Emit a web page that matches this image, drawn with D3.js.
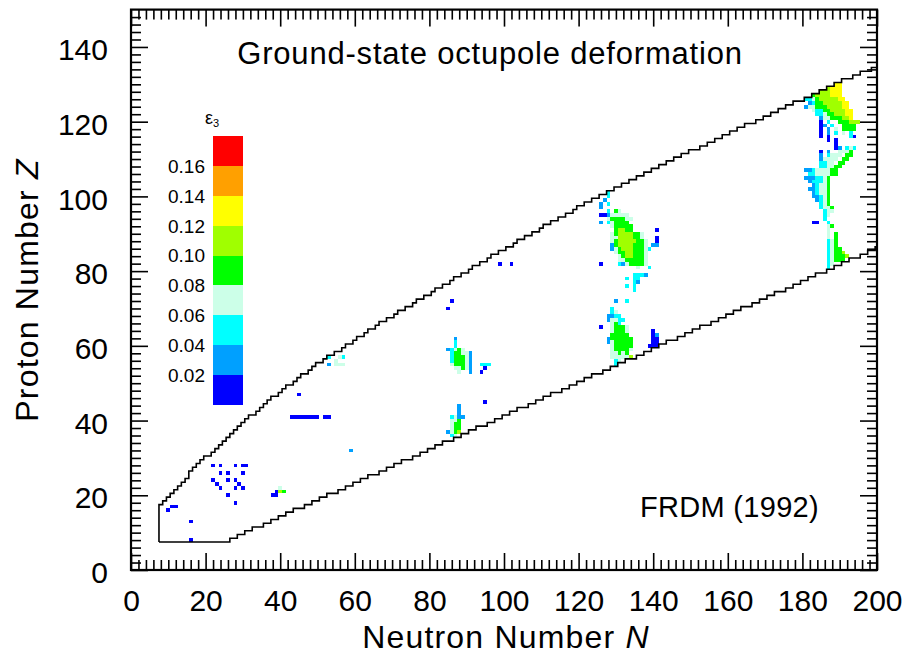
<!DOCTYPE html>
<html><head><meta charset="utf-8">
<script src="https://cdn.jsdelivr.net/npm/d3@7"></script>
<style>
body{margin:0;background:#fff}
svg{display:block;font-family:"Liberation Sans",Arial,Helvetica,sans-serif}
</style>
</head><body>
<svg id="chart" width="908" height="661"></svg>
<script>
// ---------- data ----------
const xTicks = [0,20,40,60,80,100,120,140,160,180,200];
const yTicks = [0,20,40,60,80,100,120,140];
const legendTicks = [0.02,0.04,0.06,0.08,0.10,0.12,0.14,0.16];
const legendColors = ["#0000ff","#00a0ff","#00ffff","#ccffe8","#00ff00","#a0ff00","#ffff00","#ffa000","#ff0000"];
const eps3Levels = [0.01,0.03,0.05,0.07,0.09,0.11,0.13,0.15,0.17]; // digit k in a row -> eps3Levels[k-1]

// chart boundary (FRDM 1992 table): for N = 8 ... 200
const edgeN0 = 8;
const zMaxByN = [17,18,19,20,21,22,23,24,26,27,28,29,30,
 30,31,32,33,34,35,36,37,38,39,
 40,41,41,42,43,44,45,46,46,47,
 48,49,49,50,51,52,52,53,54,55,
 55,56,57,57,58,58,59,60,60,61,
 62,62,63,64,64,65,66,66,67,67,
 68,69,69,70,70,71,72,72,73,73,
 74,75,75,76,76,77,78,78,79,79,
 80,81,81,82,82,83,84,84,85,85,
 86,86,87,88,88,89,89,90,90,91,
 92,92,93,93,94,94,95,95,96,97,
 97,98,98,99,99,100,100,101,101,102,
 102,103,103,104,104,105,105,106,106,107,
 107,108,108,109,109,110,110,111,111,112,
 112,112,113,113,114,114,115,115,116,116,
 117,117,118,118,119,119,119,120,120,121,
 121,122,122,123,123,124,124,125,125,125,
 126,126,127,127,128,128,129,129,130,130,
 131,131,131,132,132,133,133,133,134,134];
const zMinByN = [8,8,8,8,8,8,8,8,8,8,8,8,8,
 8,8,8,8,8,8,9,9,10,10,
 11,11,12,12,12,13,13,14,14,15,
 15,16,16,17,17,17,18,18,19,19,
 20,20,21,21,21,22,22,23,23,24,
 24,25,25,26,26,26,27,27,28,28,
 29,29,30,30,30,31,31,32,32,33,
 33,34,34,35,35,35,36,36,37,37,
 38,38,39,39,39,40,40,41,41,42,
 42,43,43,44,44,44,45,45,46,46,
 47,47,48,48,48,49,49,50,50,51,
 51,52,52,53,53,53,54,54,55,55,
 56,56,57,57,57,58,58,59,59,60,
 60,61,61,62,62,62,63,63,64,64,
 65,65,66,66,66,67,67,68,68,69,
 69,70,70,71,71,71,72,72,73,73,
 74,74,75,75,75,76,76,77,77,78,
 78,79,79,80,80,80,81,81,82,82,
 83,83,84,84,84,85,85,86,86,87];

// cells: [Z, first N, band digits for consecutive N ('.' = none)]
const cellRows = [
 [8,16,"1"],[13,16,"1"],[16,10,"1"],[17,11,"11"],[18,28,"1"],
 [20,26,"1"],[20,38,"11"],[21,39,"165"],[22,40,"4"],
 [22,24,"1"],[22,28,"1"],[22,30,"1"],
 [23,23,"1"],[23,29,"1"],
 [24,22,"1"],[24,26,"1"],[24,28,"1"],
 [26,24,"1"],[26,26,"1"],[26,30,"1"],
 [28,22,"1"],[28,24,"1"],[28,28,"1"],[28,30,"11"],
 [32,59,"2"],
 [41,43,"11111111"],[41,52,"11"],
 [47,45,"1"],
 [55,53,"2.444"],[56,55,"4"],[57,53,"3..43"],
 [36,86,"34"],[37,85,"2456"],[38,86,"455"],[39,86,"455"],[40,86,"445"],[41,86,"3422"],
 [42,88,"2"],[43,88,"2"],[44,88,"2"],[45,95,"1"],
 [53,88,"4..2..1"],[54,87,"44542...1"],[55,86,"455542..333"],
 [56,86,"355542"],[57,86,"355542"],[58,86,"355442"],[59,85,"23454"],
 [60,87,"3"],[61,87,"3"],[62,87,"2"],[70,85,"1"],[72,86,"1"],
 [82,99,"1..1"],
 [55,130,"3"],[56,130,"34"],[57,129,"444446"],[58,129,"44545"],
 [59,129,"455554"],[60,129,"455555....111"],
 [61,128,"2455555.....11"],[62,128,"2555555.....11"],
 [63,129,"55555......12"],[64,129,"45554......1"],
 [65,126,"1..45554"],
 [66,129,"453"],[67,128,"24433"],[68,128,"2233"],[69,129,"34"],[70,129,"3"],[72,130,"2..3"],
 [75,135,"3"],[76,133,"3.3"],[77,135,"32"],[78,133,"3.33"],[79,135,"3332"],
 [81,136,"4..3"],
 [82,126,"1....32455554"],
 [83,131,"44555554"],[84,131,"45665554"],[85,130,"455665554"],
 [86,129,"24566655543"],[87,129,"2566665554.22"],
 [88,129,"4566666554..1"],[89,129,"446666554...1"],
 [90,129,"456666554"],[91,130,"56655......1"],
 [92,129,"455555"],[93,126,"2.345555"],[94,128,"4555544"],
 [95,126,"11244444"],[96,128,"3.54"],
 [97,126,"2"],[98,126,"2.3"],[99,127,"2"],[100,128,"3"],[101,128,"3"],
 [81,187,"3"],[82,187,"34"],[83,187,"34555"],[84,187,"345556"],[85,187,"34556"],
 [86,187,"3455"],[87,187,"345"],[88,187,"345"],[89,187,"4.5"],[90,187,"4.5"],
 [91,187,"4"],[92,187,"45"],[93,183,"11..3"],[94,186,"3"],[95,186,"34"],
 [96,186,"344"],[97,185,"3445"],[98,185,"345"],[99,184,"2345"],[100,183,"22345"],
 [101,183,"23445"],[102,182,"223445"],[103,183,"23445"],[104,182,"233345"],
 [105,181,"2223345"],[106,182,"33444455"],[107,181,"223444455"],[108,185,"334455"],
 [109,185,"3344.55"],[110,185,"24444.55"],[111,185,"2.3444.55"],[112,185,"1.2..4445"],
 [113,189,"12.343"],[114,189,"1"],[115,187,"1.1"],[116,185,"1.1.....31"],
 [117,185,"1.2.3.4.3"],[118,185,"1.2.4.5555"],[119,185,"12.3..5555"],[120,185,"1.3..555666"],
 [121,185,"244555667"],[122,184,"3345566677"],[123,183,"43355666677"],
 [124,181,"244555666677"],[125,182,"23556666677"],[126,181,"33456666677"],
 [127,183,"56666777"],[128,185,"666777"],[129,187,"6777"],[130,189,"77"]
];

// ---------- layout ----------
const svg = d3.select("#chart");
const W = 908, H = 661;
const plot = {left:131, right:877, top:9.6, bottom:570};
const x = d3.scaleLinear().domain([0,200]).range([plot.left, plot.right]);
const y = d3.scaleLinear().domain([0,150]).range([plot.bottom, plot.top]);
const color = d3.scaleThreshold().domain(legendTicks).range(legendColors);
const FONT = "Liberation Sans, Arial, Helvetica, sans-serif";

svg.append("rect").attr("width",W).attr("height",H).attr("fill","#fff");

svg.append("clipPath").attr("id","clip").append("rect")
  .attr("x",plot.left).attr("y",plot.top)
  .attr("width",plot.right-plot.left).attr("height",plot.bottom-plot.top);

// cells
const cells = [];
cellRows.forEach(([Z,N0,s]) => {
  for (let i=0;i<s.length;i++){
    const c = s[i];
    if (c === ".") continue;
    cells.push({N:N0+i, Z:Z, eps:eps3Levels[+c-1]});
  }
});
const gCells = svg.append("g").attr("clip-path","url(#clip)");
gCells.selectAll("rect").data(cells).join("rect")
  .attr("x",d=>x(d.N-0.5)).attr("y",d=>y(d.Z+0.5))
  .attr("width",d=>x(d.N+0.5)-x(d.N-0.5))
  .attr("height",d=>y(d.Z-0.5)-y(d.Z+0.5))
  .attr("fill",d=>color(d.eps))
  .attr("shape-rendering","crispEdges");

// boundary staircase
const upperPts = [[edgeN0-0.5, zMinByN[0]-0.5],[edgeN0-0.5, zMaxByN[0]+0.5]];
zMaxByN.forEach((z,i)=>{ const N=edgeN0+i; upperPts.push([N-0.5,z+0.5],[N+0.5,z+0.5]); });
const lowerPts = [[edgeN0-0.5, zMinByN[0]-0.5]];
zMinByN.forEach((z,i)=>{ const N=edgeN0+i; lowerPts.push([N-0.5,z-0.5],[N+0.5,z-0.5]); });
const line = d3.line().x(d=>x(d[0])).y(d=>y(d[1]));
const gB = svg.append("g").attr("clip-path","url(#clip)");
[upperPts, lowerPts].forEach(p=>{
  gB.append("path").attr("d",line(p)).attr("fill","none")
    .attr("stroke","#000").attr("stroke-width",1.6).attr("stroke-linejoin","miter");
});

// axes
const minorX = d3.range(0,201,2).filter(v=>v%20!==0);
const minorY = d3.range(0,150,2).filter(v=>v%20!==0);
function styleAxis(g){ g.select(".domain").remove(); g.selectAll("line").attr("stroke","#000").attr("stroke-width",1.6); }
const fs = 30;
svg.append("g").attr("transform",`translate(0,${plot.bottom})`)
  .call(d3.axisBottom(x).tickValues(xTicks).tickSize(-17).tickPadding(20).tickFormat(d3.format("d")))
  .call(styleAxis).call(g=>g.selectAll("text").attr("font-size",fs).attr("fill","#000").attr("font-family",FONT));
svg.append("g").attr("transform",`translate(0,${plot.bottom})`)
  .call(d3.axisBottom(x).tickValues(minorX).tickSize(-10).tickFormat(""))
  .call(styleAxis);
svg.append("g").attr("transform",`translate(0,${plot.top})`)
  .call(d3.axisTop(x).tickValues(xTicks).tickSize(-17).tickFormat(""))
  .call(styleAxis);
svg.append("g").attr("transform",`translate(0,${plot.top})`)
  .call(d3.axisTop(x).tickValues(minorX).tickSize(-10).tickFormat(""))
  .call(styleAxis);
svg.append("g").attr("transform",`translate(${plot.left},0)`)
  .call(d3.axisLeft(y).tickValues(yTicks).tickSize(-17).tickPadding(23).tickFormat(d3.format("d")))
  .call(styleAxis).call(g=>g.selectAll("text").attr("font-size",fs).attr("dy","0.42em").attr("fill","#000").attr("font-family",FONT));
svg.append("g").attr("transform",`translate(${plot.left},0)`)
  .call(d3.axisLeft(y).tickValues(minorY).tickSize(-10).tickFormat(""))
  .call(styleAxis);
svg.append("g").attr("transform",`translate(${plot.right},0)`)
  .call(d3.axisRight(y).tickValues(yTicks).tickSize(-17).tickFormat(""))
  .call(styleAxis);
svg.append("g").attr("transform",`translate(${plot.right},0)`)
  .call(d3.axisRight(y).tickValues(minorY).tickSize(-10).tickFormat(""))
  .call(styleAxis);

svg.append("rect").attr("x",plot.left).attr("y",plot.top)
  .attr("width",plot.right-plot.left).attr("height",plot.bottom-plot.top)
  .attr("fill","none").attr("stroke","#000").attr("stroke-width",2.2);

// titles
svg.append("text").attr("x",490).attr("y",63.5).attr("text-anchor","middle")
  .attr("font-size",31).attr("letter-spacing",0.8).text("Ground-state octupole deformation");
const xt = svg.append("text").attr("x",506).attr("y",648).attr("text-anchor","middle")
  .attr("font-size",32).attr("letter-spacing",1.2);
xt.append("tspan").text("Neutron Number ");
xt.append("tspan").attr("font-style","italic").text("N");
const yt = svg.append("text").attr("transform","translate(38,290) rotate(-90)").attr("text-anchor","middle")
  .attr("font-size",32).attr("letter-spacing",1.2);
yt.append("tspan").text("Proton Number ");
yt.append("tspan").attr("font-style","italic").text("Z");
svg.append("text").attr("x",640).attr("y",517).attr("font-size",29).attr("letter-spacing",0.3).text("FRDM (1992)");

// colour bar
const yBar = d3.scaleLinear().domain([0,0.18]).range([405,136]);
const barEdges = [0].concat(legendTicks).concat([0.18]);
const gBar = svg.append("g");
gBar.selectAll("rect").data(legendColors).join("rect")
  .attr("x",213).attr("width",30)
  .attr("y",(d,i)=>yBar(barEdges[i+1]))
  .attr("height",(d,i)=>yBar(barEdges[i])-yBar(barEdges[i+1]))
  .attr("fill",d=>d).attr("shape-rendering","crispEdges");
gBar.selectAll("text").data(legendTicks).join("text")
  .attr("x",205).attr("y",d=>yBar(d)).attr("dy","0.36em")
  .attr("text-anchor","end").attr("font-size",19)
  .text(d=>d3.format(".2f")(d));
const eps = svg.append("text").attr("x",205).attr("y",124).attr("font-size",18);
eps.append("tspan").text("ε");
eps.append("tspan").attr("font-size",11).attr("dy",3).text("3");
</script>
</body></html>
